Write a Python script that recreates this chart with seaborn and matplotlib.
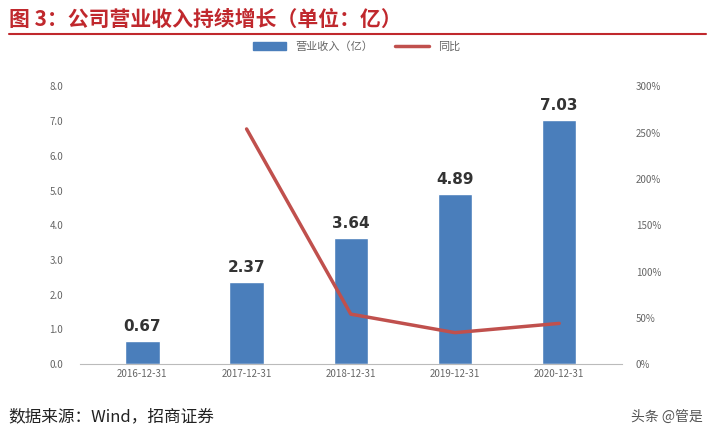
import matplotlib
matplotlib.use("Agg")
import matplotlib.pyplot as plt
import seaborn as sns
import pandas as pd
from matplotlib.patches import Patch

dates = ["2016-12-31", "2017-12-31", "2018-12-31", "2019-12-31", "2020-12-31"]
revenue = [0.67, 2.37, 3.64, 4.89, 7.03]
yoy = [None, 254, 54, 34, 44]

sns.set_style("white")
plt.rcParams['font.family'] = ['Noto Sans CJK SC', 'DejaVu Sans']

fig = plt.figure(figsize=(7.13, 4.34), dpi=100)
ax = fig.add_axes([0.112, 0.161, 0.76, 0.64])
df = pd.DataFrame({"d": dates, "r": revenue})
sns.barplot(data=df, x="d", y="r", color="#4a7ebb", width=0.33, ax=ax, saturation=1)
for i, v in enumerate(revenue):
    ax.text(i, v + 0.2, f"{v:.2f}", ha="center", va="bottom", fontsize=11, fontweight="bold",
            color="#333333", family="DejaVu Sans")
ax.set_ylim(0, 8)
ax.set_yticks([i for i in range(9)])
ax.set_yticklabels([f"{i:.1f}" for i in range(9)], fontsize=7, color="#666666")
ax.set_xlabel(""); ax.set_ylabel("")
ax.tick_params(axis="x", labelsize=7, colors="#666666", length=0)
ax.tick_params(axis="y", length=0, pad=12)
for s in ["top", "right", "left"]:
    ax.spines[s].set_visible(False)
ax.spines["bottom"].set_color("#bbbbbb")

ax2 = ax.twinx()
xs = [i for i, v in enumerate(yoy) if v is not None]
ys = [v for v in yoy if v is not None]
ax2.plot(xs, ys, color="#c0504d", lw=2.5, label="同比")
ax2.set_ylim(0, 300)
ax2.set_yticks(range(0, 301, 50))
ax2.set_yticklabels([f"{v}%" for v in range(0, 301, 50)], fontsize=7, color="#666666")
ax2.tick_params(axis="y", length=0, pad=10)
for s in ["top", "right", "left", "bottom"]:
    ax2.spines[s].set_visible(False)
ax.set_xlim(-0.6, 4.6)

h = [Patch(color="#4a7ebb"), ax2.get_lines()[0]]
fig.legend(h, ["营业收入（亿）", "同比"], loc="center", bbox_to_anchor=(0.5, 0.893), ncol=2, frameon=False, fontsize=8,
           labelcolor="#666666", handlelength=3)

fig.text(0.012, 0.955, "图 3：公司营业收入持续增长（单位：亿）", fontsize=15, fontweight="bold", color="#c0282d", va="center")
fig.add_artist(plt.Line2D([0.012, 0.99], [0.922, 0.922], color="#c0282d", lw=1.5))
fig.text(0.012, 0.04, "数据来源：Wind，招商证券", fontsize=12, color="#222222", va="center")
fig.text(0.985, 0.04, "头条 @管是", fontsize=10, color="#555555", va="center", ha="right")
fig.savefig("out.png", dpi=100)
